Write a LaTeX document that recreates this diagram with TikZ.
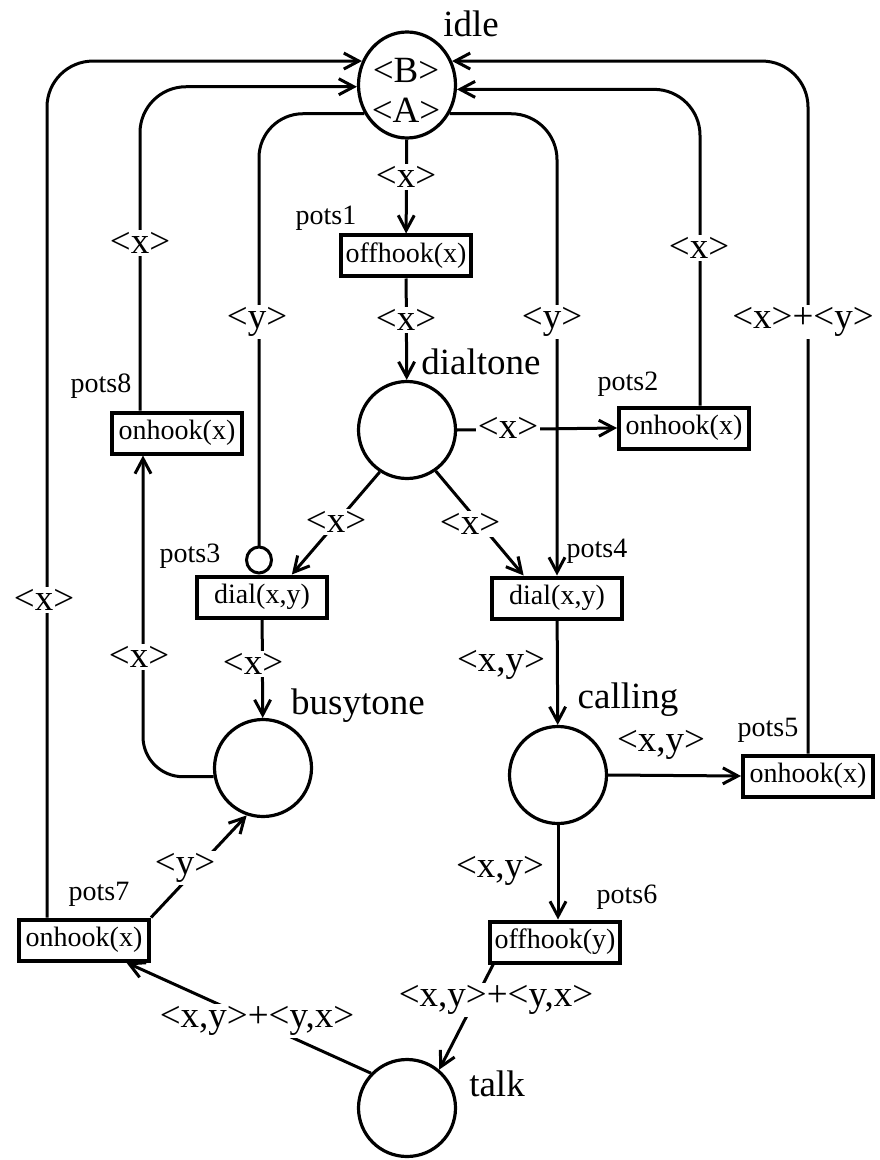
\documentclass[tikz,border=0pt]{standalone}
\usepackage{fontspec}
\setmainfont{Liberation Serif}
\usetikzlibrary{arrows.meta,shapes.geometric}
\newcommand{\bigtxt}{\fontsize{18.5}{20}\selectfont}
\newcommand{\smalltxt}{\fontsize{14}{16}\selectfont}

\begin{document}
\begin{tikzpicture}[x=0.5pt, y=-0.5pt,
            place/.style={draw, circle, line width=1.6pt, minimum size=48.5pt, inner sep=0pt},
            transition/.style={draw, line width=2pt, minimum width=65pt, minimum height=20.5pt, inner sep=0pt, font=\smalltxt},
            flow/.style={line width=1.5pt, -{Straight Barb[length=7.5pt, width=8pt]}},
            back/.style={flow, rounded corners=23pt},
            inhib/.style={line width=1.5pt, rounded corners=22pt, -{Circle[open, length=14.5pt, width=14pt]}},
            lab/.style={fill=white, inner sep=1pt, font=\bigtxt},
            pname/.style={font=\bigtxt},
            tname/.style={font=\smalltxt}]
            \useasboundingbox (0,0) rectangle (879,1160);
            % places
            \node[place, ellipse, minimum width=48.5pt, minimum height=53pt] (idle) at (407,85) {};
            \node[font=\bigtxt] (tokB) at (406,70) {<B>};
            \node[font=\bigtxt] (tokA) at (406,110) {<A>};
            \node[place] (dialtone) at (407,430) {};
            \node[place] (busytone) at (263,768) {};
            \node[place] (calling) at (558,775) {};
            \node[place] (talk) at (407,1108) {};
            \node[pname] (idlename) at (471,24) {idle};
            \node[pname] (dialname) at (481,362) {dialtone};
            \node[pname] (busyname) at (358,706) {busytone};
            \node[pname] (callname) at (628,700) {calling};
            \node[pname] (talkname) at (497,1084) {talk};
            % transitions
            \node[transition] (pots1) at (406,256) {offhook(x)};
            \node[transition] (pots2) at (684,428) {onhook(x)};
            \node[transition] (pots3) at (262,597) {dial(x,y)};
            \node[transition] (pots4) at (557,598) {dial(x,y)};
            \node[transition] (pots5) at (808,776) {onhook(x)};
            \node[transition] (pots6) at (555,942) {offhook(y)};
            \node[transition] (pots7) at (84,940) {onhook(x)};
            \node[transition] (pots8) at (177,433) {onhook(x)};
            \node[tname] (name1) at (326,218) {pots1};
            \node[tname] (name2) at (628,384) {pots2};
            \node[tname] (name3) at (190,556) {pots3};
            \node[tname] (name4) at (597,551) {pots4};
            \node[tname] (name5) at (768,730) {pots5};
            \node[tname] (name6) at (627,897) {pots6};
            \node[tname] (name7) at (99,894) {pots7};
            \node[tname] (name8) at (101,386) {pots8};
            % arcs
            \draw[flow] (idle) -- (pots1);
            \draw[flow] (pots1) -- (dialtone);
            \draw[flow] (dialtone.east) -- (pots2.west);
            \draw[flow] (dialtone.237) -- (pots3.37);
            \draw[flow] (dialtone.305) -- (pots4.146);
            \draw[flow] (pots3) -- (busytone);
            \draw[flow] (pots4) -- (calling);
            \draw[flow] (calling.east) -- (pots5.west);
            \draw[flow] (calling.south) -- (calling.south |- pots6.north);
            \draw[flow] (pots6.200) -- (talk.50);
            \draw[flow] (talk.136) -- (pots7.332);
            \draw[flow] (pots7.north east) -- (busytone.251);
            \draw[flow, rounded corners=20pt] (busytone.190) -| ([xshift=-17pt]pots8.south);
            \draw[back] ([xshift=8pt]pots2.north) |- (idle.-5);
            \draw[back] ([xshift=-18.5pt]pots8.north) |- (idle.182);
            \draw[back] ([xshift=-18.5pt]pots7.north) |- (idle.152);
            \draw[back] (pots5.north) |- (idle.28);
            \draw[back] (idle.326) -| (pots4.north);
            \draw[inhib] (idle.214) -| ([xshift=-1.5pt]pots3.north);
            % arc labels
            \node[lab] (l1) at (406,177) {<x>};
            \node[lab] (l2) at (406,320) {<x>};
            \node[lab] (l3) at (257,322) {<y>};
            \node[lab] (l4) at (552,322) {<y>};
            \node[lab] (l5) at (140,243) {<x>};
            \node[lab] (l6) at (699,248) {<x>};
            \node[lab] (l7) at (803,322) {<x>+<y>};
            \node[lab] (l8) at (44,600) {<x>};
            \node[lab] (l9) at (508,428) {<x>};
            \node[lab] (l10) at (336,522) {<x>};
            \node[lab] (l11) at (470,524) {<x>};
            \node[lab] (l12) at (253,664) {<x>};
            \node[lab] (l13) at (139,657) {<x>};
            \node[lab] (l14) at (501,665) {<x,y>};
            \node[lab] (l15) at (661,745) {<x,y>};
            \node[lab] (l16) at (500,871) {<x,y>};
            \node[lab] (l17) at (496,1000) {<x,y>+<y,x>};
            \node[lab] (l18) at (257,1021) {<x,y>+<y,x>};
            \node[lab] (l19) at (185,868) {<y>};
        \end{tikzpicture}
\end{document}
